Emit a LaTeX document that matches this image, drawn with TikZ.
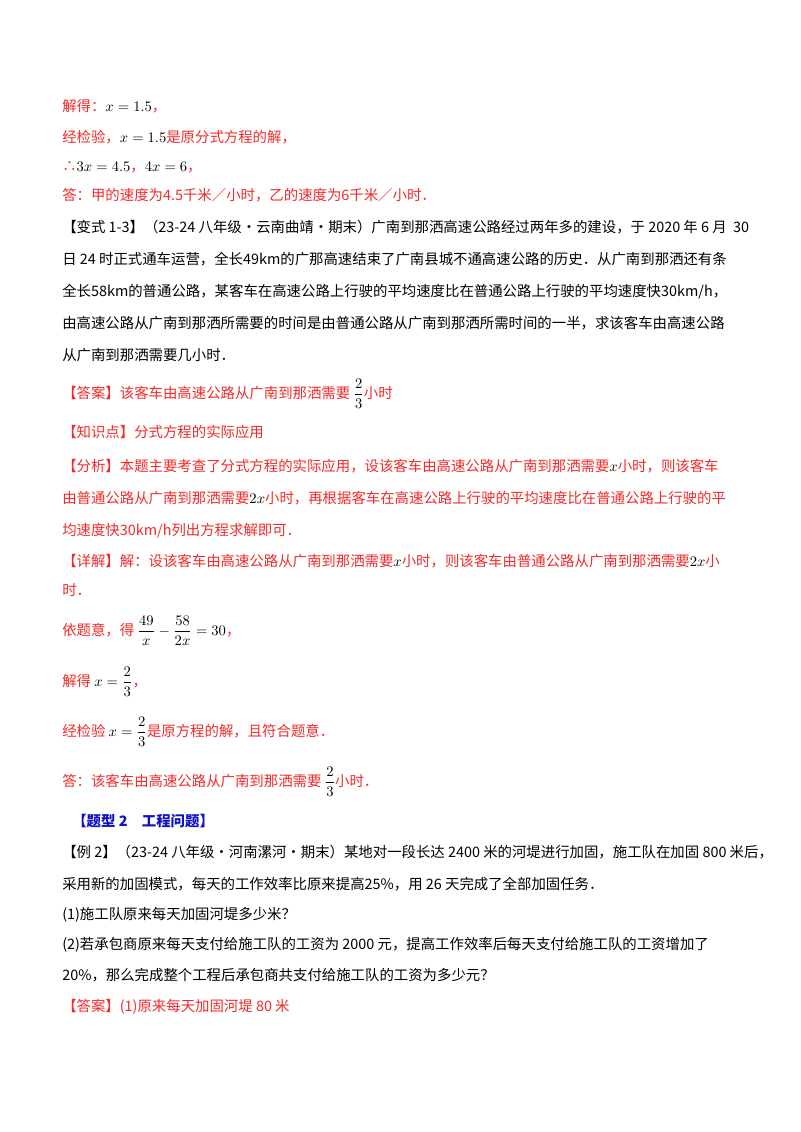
\documentclass[tikz,border=0pt]{standalone}
\usepackage{amsmath}
\usepackage{fontspec}
\setmainfont{Noto Sans CJK SC}
\newfontfamily\cjk{Noto Sans CJK SC}
\definecolor{ansred}{HTML}{F22A2A}
\definecolor{headblue}{HTML}{1010C8}
\begin{document}
\begin{tikzpicture}[x=0.75pt,y=-0.75pt,
  ln/.style={anchor=base west,inner sep=0pt,font=\fontsize{10.8pt}{13pt}\selectfont},
  rl/.style={ln,text=ansred},
  bl/.style={ln,text=black},
  hb/.style={ln,text=headblue,font=\fontsize{10.8pt}{13pt}\selectfont\bfseries}]
\useasboundingbox[fill=white] (0,0) rectangle (800,1132);
\node[rl] (l1) at (62,111) {解得：\textcolor{black}{$x=1.5$}，};
\node[rl] (l2) at (62,142) {经检验，\textcolor{black}{$x=1.5$}是原分式方程的解，};
\node[rl] (l3) at (62,171) {∴\textcolor{black}{$3x=4.5$}，\textcolor{black}{$4x=6$}，};
\node[rl] (l4) at (62,200) {答：甲的速度为4.5千米／小时，乙的速度为6千米／小时．};
\node[bl] (l5) at (62,232) {\textcolor{black}{【变式 1-3】（23-24 八年级·云南曲靖·期末）广南到那洒高速公路经过两年多的建设，于 2020 年 6 月\ \ 30}};
\node[bl] (l6) at (62,264) {日 24 时正式通车运营，全长49km的广那高速结束了广南县城不通高速公路的历史．从广南到那洒还有条};
\node[bl] (l7) at (62,296) {全长58km的普通公路，某客车在高速公路上行驶的平均速度比在普通公路上行驶的平均速度快30km/h，};
\node[bl] (l8) at (62,328) {由高速公路从广南到那洒所需要的时间是由普通公路从广南到那洒所需时间的一半，求该客车由高速公路};
\node[bl] (l9) at (62,360) {从广南到那洒需要几小时．};
\node[rl] (l10) at (62,398) {【答案】该客车由高速公路从广南到那洒需要\ \textcolor{black}{$\dfrac{2}{3}$}小时};
\node[rl] (l11) at (62,437) {【知识点】分式方程的实际应用};
\node[rl] (l12) at (62,471) {【分析】本题主要考查了分式方程的实际应用，设该客车由高速公路从广南到那洒需要\textcolor{black}{$x$}小时，则该客车};
\node[rl] (l13) at (62,503) {由普通公路从广南到那洒需要\textcolor{black}{$2x$}小时，再根据客车在高速公路上行驶的平均速度比在普通公路上行驶的平};
\node[rl] (l14) at (62,535) {均速度快30km/h列出方程求解即可．};
\node[rl] (l15) at (62,566) {【详解】解：设该客车由高速公路从广南到那洒需要\textcolor{black}{$x$}小时，则该客车由普通公路从广南到那洒需要\textcolor{black}{$2x$}小};
\node[rl] (l16) at (62,595) {时．};
\node[rl] (l17) at (62,635) {依题意，得\ \textcolor{black}{$\dfrac{49}{x}-\dfrac{58}{2x}=30$}，};
\node[rl] (l18) at (62,686) {解得\ \textcolor{black}{$x=\dfrac{2}{3}$}，};
\node[rl] (l19) at (62,736) {经检验\ \textcolor{black}{$x=\dfrac{2}{3}$}是原方程的解，且符合题意．};
\node[rl] (l20) at (62,786) {答：该客车由高速公路从广南到那洒需要\ \textcolor{black}{$\dfrac{2}{3}$}小时．};
\node[hb] (l21) at (72,826) {【题型 2\quad 工程问题】};
\node[bl] (l22) at (62,857) {【例 2】（23-24 八年级·河南漯河·期末）某地对一段长达 2400 米的河堤进行加固，施工队在加固 800 米后，};
\node[bl] (l23) at (62,889) {采用新的加固模式，每天的工作效率比原来提高25\%，用 26 天完成了全部加固任务．};
\node[bl] (l24) at (62,919) {(1)施工队原来每天加固河堤多少米？};
\node[bl] (l25) at (62,949) {(2)若承包商原来每天支付给施工队的工资为 2000 元，提高工作效率后每天支付给施工队的工资增加了};
\node[bl] (l26) at (62,980) {20\%，那么完成整个工程后承包商共支付给施工队的工资为多少元？};
\node[rl] (l27) at (62,1011) {【答案】(1)原来每天加固河堤 80 米};
\end{tikzpicture}
\end{document}
